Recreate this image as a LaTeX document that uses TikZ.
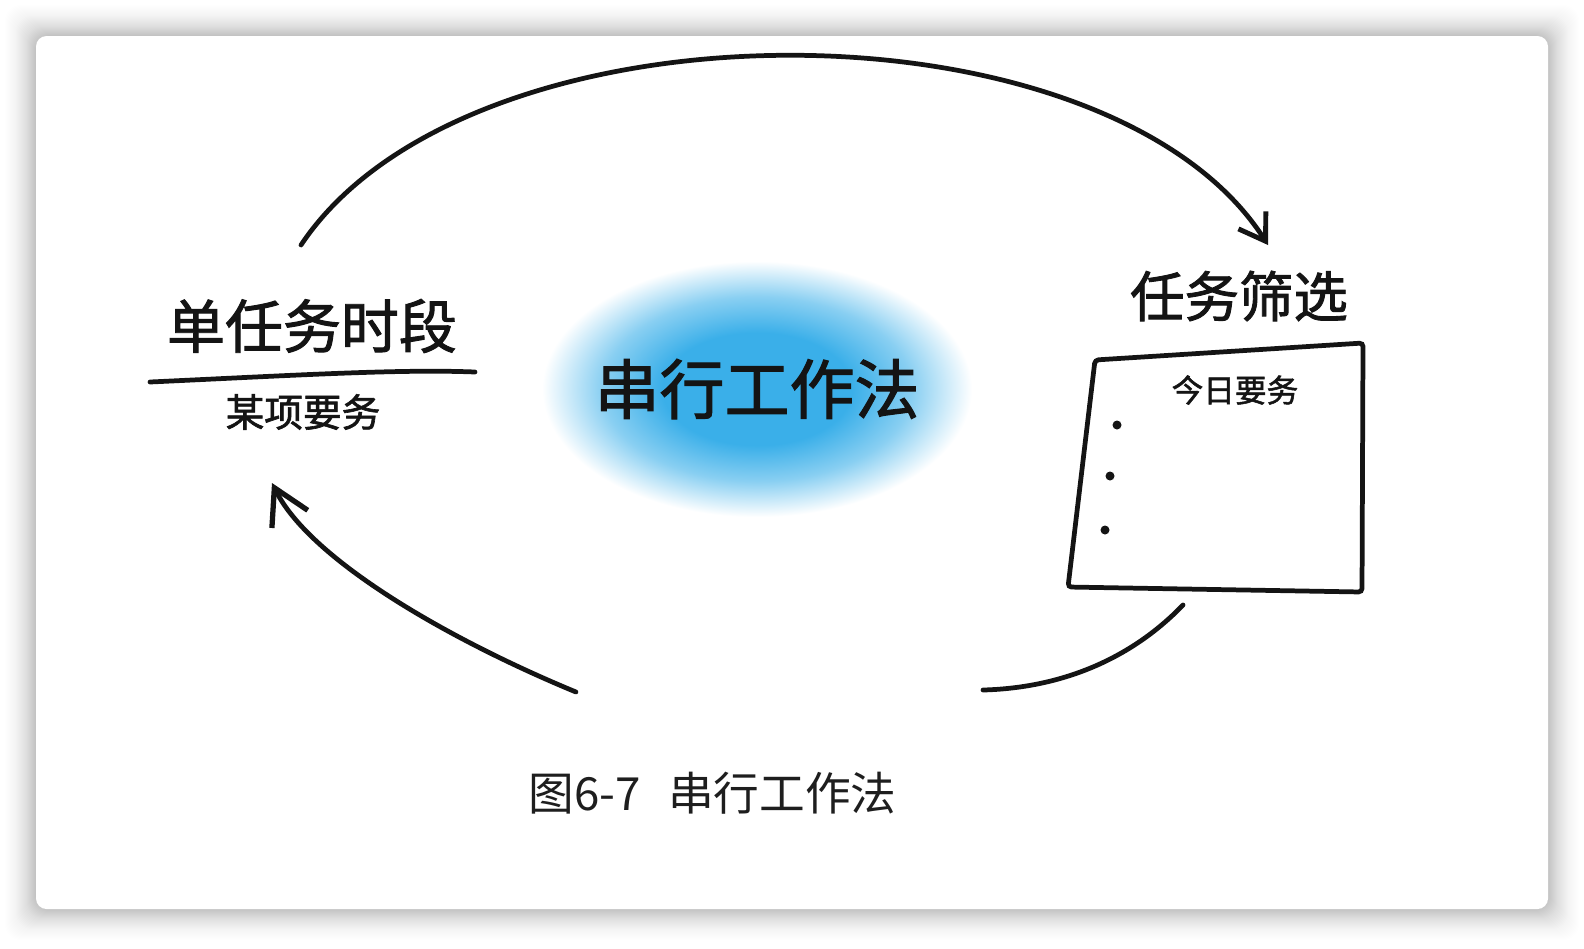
\documentclass[tikz,border=0pt]{standalone}
\usepackage{fontspec}
\newfontfamily\cjk{Noto Sans CJK SC}
\newfontfamily\cjkhand[FakeBold=1.6]{Noto Sans CJK SC}
\usetikzlibrary{arrows.meta, positioning}
\definecolor{sketchink}{HTML}{141414}
\definecolor{blobblue}{HTML}{3AAFE9}
\definecolor{captionink}{HTML}{1E1E1E}
\pgfdeclareradialshading{blobshade}{\pgfpoint{0bp}{0bp}}{%
  color(0bp)=(blobblue); color(11bp)=(blobblue);
  color(18bp)=(blobblue!60!white); color(25bp)=(white); color(50bp)=(white)}

\begin{document}
\begin{tikzpicture}[
      x=0.02cm,
      y=-0.02cm,
      font=\cjk,
      pen/.style={
        line width=2.7pt,
        draw=sketchink,
        line cap=round
      },
      loop/.style={
        pen,
        -{Straight Barb[length=5mm, width=6.5mm, line width=2.8pt]}
      },
      hand/.style={
        text=sketchink,
        inner sep=0pt
      }
  ]

    \useasboundingbox (0,0) rectangle (1584,948);

    % Karte mit Schatten
    \foreach \s in {1,...,36} {
      \pgfmathsetmacro{\shadowop}{0.013*(1-\s/37)}
      \fill[black, opacity=\shadowop, rounded corners=9pt]
        (36-\s,36-\s) rectangle (1548+\s,909+\s);
    }
    \fill[white, rounded corners=6pt] (36,36) rectangle (1548,909);

    % Blauer Fleck
    \shade[shading=blobshade] (757,389) ellipse [x radius=215, y radius=128];

    \node[hand, font=\cjkhand\fontsize{37}{40}\selectfont] (title) at (757,389) {串行工作法};

    % Linke Seite
    \node[hand, font=\cjkhand\fontsize{33}{36}\selectfont] (focus) at (312,326) {单任务时段};
    \draw[pen] (150,382) .. controls (300,375) and (400,369) .. (475,372);
    \node[hand, font=\cjkhand\fontsize{22}{24}\selectfont] (focustask) at (303,412) {某项要务};

    % Rechte Seite
    \node[hand, font=\cjkhand\fontsize{31}{34}\selectfont] (filter) at (1239,296) {任务筛选};
    \draw[pen, rounded corners=2pt]
      (1095,360) -- (1363,343) -- (1362,592) -- (1068,587) -- cycle;
    \node[hand, font=\cjkhand\fontsize{18}{20}\selectfont] (today) at (1235,390) {今日要务};
    \foreach \y/\x in {425/1117, 476/1110, 530/1105} {
      \fill[sketchink] (\x,\y) circle [radius=4.5];
    }

    % Kreislauf
    \coordinate (topstart) at (301,245);
    \coordinate (toptip) at (1268,245);
    \coordinate (boxfoot) at (1183,605);
    \coordinate (gapright) at (983,690);
    \coordinate (gapleft) at (576,692);
    \coordinate (backtip) at (272,483);

    \draw[loop] (topstart) .. controls (469,-7) and (1107,-7) .. (toptip);
    \draw[pen] (boxfoot) .. controls (1130,660) and (1060,688) .. (gapright);
    \draw[pen, -{Straight Barb[length=7mm, width=8mm, line width=3pt]}]
      (gapleft) .. controls (450,640) and (310,560) .. (backtip);

    % Bildunterschrift
    \node[
      font=\cjk\fontsize{26}{28}\selectfont,
      text=captionink,
      anchor=west,
      inner sep=0pt
    ] (caption) at (528,793) {图6-7\hspace{0.6em}串行工作法};

  \end{tikzpicture}
\end{document}
